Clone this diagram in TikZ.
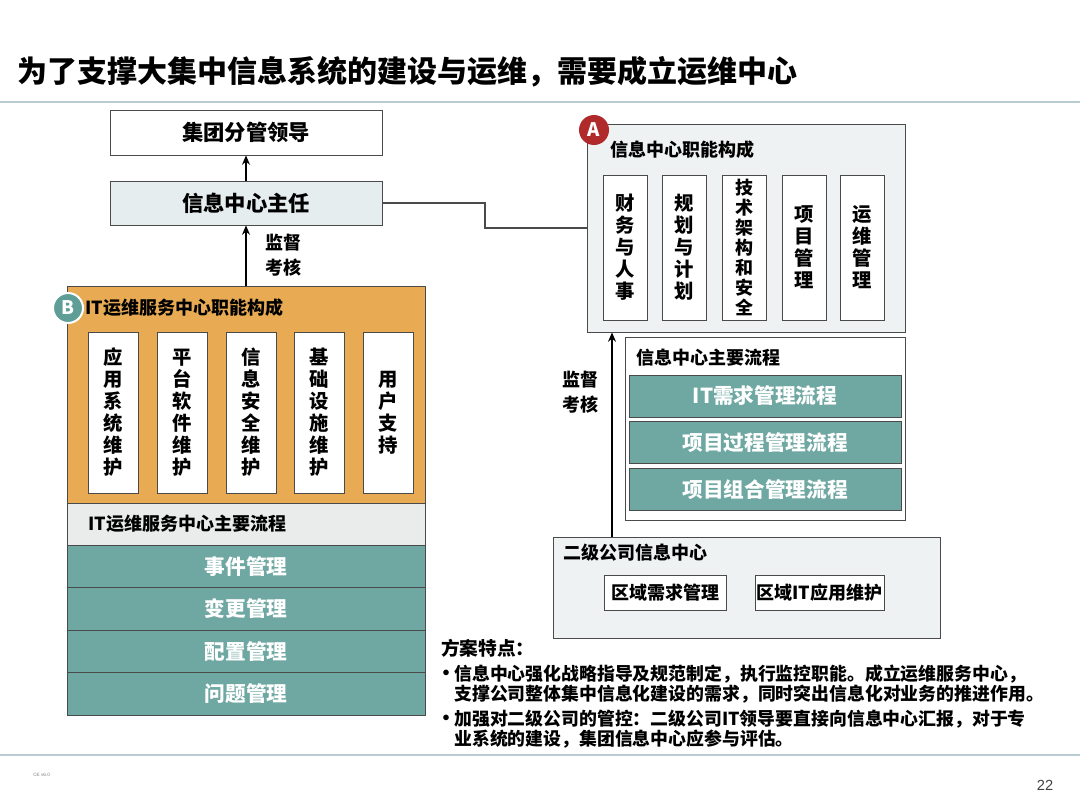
\documentclass[tikz,border=0pt]{standalone}
\usepackage{fontspec}
\setmainfont{Noto Sans CJK SC}
\newfontfamily\footfont{Liberation Sans}
\usetikzlibrary{arrows.meta}

\definecolor{opsorange}{HTML}{E8AA52}
\definecolor{flowteal}{HTML}{6FA8A2}
\definecolor{panelgray}{HTML}{EEF2F3}
\definecolor{chiefgray}{HTML}{E6EDEF}
\definecolor{bandgray}{HTML}{E9ECEB}
\definecolor{rulegray}{HTML}{B9CCD3}
\definecolor{edgegray}{HTML}{4A4A4A}
\definecolor{badgered}{HTML}{B02A2B}
\definecolor{badgeteal}{HTML}{5F9E97}

\tikzset{
  box/.style={draw=edgegray, line width=0.7pt, inner sep=0pt,
    font=\bfseries\fontsize{16}{19}\selectfont},
  vbox/.style={box, fill=white, align=center,
    font=\bfseries\fontsize{14.5}{16.5}\selectfont},
  tealrow/.style={box, fill=flowteal, text=white,
    font=\bfseries\fontsize{15.5}{18}\selectfont},
  paneltitle/.style={anchor=west, inner sep=0pt,
    font=\bfseries\fontsize{13.5}{15}\selectfont},
  badge/.style={circle, draw=white, line width=1.5pt, minimum size=22.5pt,
    inner sep=0pt, text=white, font=\bfseries\fontsize{14}{14}\selectfont},
  arr/.style={-{Stealth[length=7pt,width=6pt]}, line width=0.8pt},
  duty/.style={align=center, inner sep=0pt,
    font=\bfseries\fontsize{13.5}{18.75}\selectfont},
  note/.style={anchor=north west, align=left, inner sep=0pt,
    font=\bfseries\fontsize{13.4}{15}\selectfont}
}

\begin{document}
\begin{tikzpicture}[x=0.75pt, y=-0.75pt]
    \useasboundingbox (0,0) rectangle (1080,810);

    % title and rules
    \node[anchor=west, inner sep=0pt, font=\bfseries\fontsize{22.5}{26}\selectfont] (title) at (17,72)
        {为了支撑大集中信息系统的建设与运维，需要成立运维中心};
    \draw[rulegray, line width=2.2pt] (0,102) -- (1080,102);
    \draw[rulegray, line width=1.8pt] (0,755) -- (1080,755);

    % left column
    \node[box, fill=white, minimum width=204pt, minimum height=33.75pt] (lead) at (246,132.5) {集团分管领导};
    \node[box, fill=chiefgray, minimum width=204pt, minimum height=33pt] (chief) at (246,203) {信息中心主任};

    \node[box, fill=opsorange, minimum width=268.5pt, minimum height=162.75pt] (opsfn) at (246,394.5) {};
    \node[badge, fill=badgeteal] (badgeB) at (68,308) {B};
    \node[paneltitle] (opsfntitle) at (85,308) {IT运维服务中心职能构成};
    \foreach \x/\lab [count=\i] in {113/应\\用\\系\\统\\维\\护, 182/平\\台\\软\\件\\维\\护,
        251/信\\息\\安\\全\\维\\护, 319/基\\础\\设\\施\\维\\护, 388/用\\户\\支\\持}
        \node[vbox, minimum width=37.5pt, minimum height=120.75pt] (opsduty\i) at (\x,412.5) {\lab};

    \node[box, fill=bandgray, minimum width=268.5pt, minimum height=31.5pt] (opsflow) at (246,524) {};
    \node[paneltitle] (opsflowtitle) at (88,524) {IT运维服务中心主要流程};
    \foreach \lab [count=\i] in {事件管理, 变更管理, 配置管理, 问题管理}
        \node[tealrow, minimum width=268.5pt, minimum height=31.875pt] (opsrow\i) at (246,{545+42.5*(\i-0.5)}) {\lab};

    \draw[arr] (chief.north) -- (lead.south);
    \draw[arr] (opsfn.north) -- (chief.south);
    \node[duty] (dutyL) at (283,255.5) {监督\\考核};

    % right column
    \node[box, fill=panelgray, minimum width=238.5pt, minimum height=156pt] (cenfn) at (746,228) {};
    \node[badge, fill=badgered, draw=none] (badgeA) at (594,130) {A};
    \node[paneltitle] (cenfntitle) at (610,150) {信息中心职能构成};
    \foreach \x/\lab [count=\i] in {625.5/财\\务\\与\\人\\事, 684/规\\划\\与\\计\\划,
        804/项\\目\\管\\理, 862.5/运\\维\\管\\理}
        \node[vbox, minimum width=33pt, minimum height=108.75pt] (cenduty\i) at (\x,247.5) {\lab};
    \node[vbox, minimum width=33pt, minimum height=108.75pt,
        font=\bfseries\fontsize{13.5}{15.1}\selectfont] (centech) at (744,247.5) {技\\术\\架\\构\\和\\安\\全};

    \node[box, fill=white, minimum width=210pt, minimum height=137.25pt] (cenflow) at (765,428.5) {};
    \node[paneltitle] (cenflowtitle) at (636,358) {信息中心主要流程};
    \foreach \y/\lab [count=\i] in {396/IT需求管理流程, 442.5/项目过程管理流程, 489.5/项目组合管理流程}
        \node[tealrow, minimum width=204pt, minimum height=31.5pt] (cenrow\i) at (765,\y) {\lab};

    \node[box, fill=panelgray, minimum width=290.25pt, minimum height=75.75pt] (sub) at (746.5,587.5) {};
    \node[paneltitle] (subtitle) at (563,553) {二级公司信息中心};
    \node[box, fill=white, minimum width=91.5pt, minimum height=26.25pt,
        font=\bfseries\fontsize{13.5}{15}\selectfont] (subneed) at (665,592.5) {区域需求管理};
    \node[box, fill=white, minimum width=96.75pt, minimum height=26.25pt,
        font=\bfseries\fontsize{13.5}{15}\selectfont] (subapp) at (819.5,592.5) {区域IT应用维护};

    \coordinate (upline) at (612,0);
    \coordinate (bend) at (485,0);
    \draw[arr] (sub.north -| upline) -- (cenfn.south -| upline);
    \node[duty] (dutyR) at (580,392.5) {监督\\考核};
    \draw[edgegray, line width=0.8pt] (chief.east) -- (chief.east -| bend) |- (cenfn.west);

    % notes
    \node[anchor=west, inner sep=0pt, font=\bfseries\fontsize{14}{16}\selectfont] (notehead) at (441,648) {方案特点：};
    \node[note] (note1) at (454,665) {信息中心强化战略指导及规范制定，执行监控职能。成立运维服务中心，\\支撑公司整体集中信息化建设的需求，同时突出信息化对业务的推进作用。};
    \node[note] (note2) at (454,710) {加强对二级公司的管控：二级公司IT领导要直接向信息中心汇报，对于专\\业系统的建设，集团信息中心应参与评估。};
    \node[inner sep=0pt, font=\bfseries\fontsize{15}{15}\selectfont] (dot1) at (446,675) {•};
    \node[inner sep=0pt, font=\bfseries\fontsize{15}{15}\selectfont] (dot2) at (446,720) {•};

    % footer
    \node[anchor=west, inner sep=0pt, font=\footfont\fontsize{3.5}{4}\selectfont, text=gray] (ver) at (33,775) {CE v6.0};
    \node[inner sep=0pt, font=\footfont\fontsize{11}{12}\selectfont, text=black!75] (page) at (1045,785) {22};
\end{tikzpicture}
\end{document}
